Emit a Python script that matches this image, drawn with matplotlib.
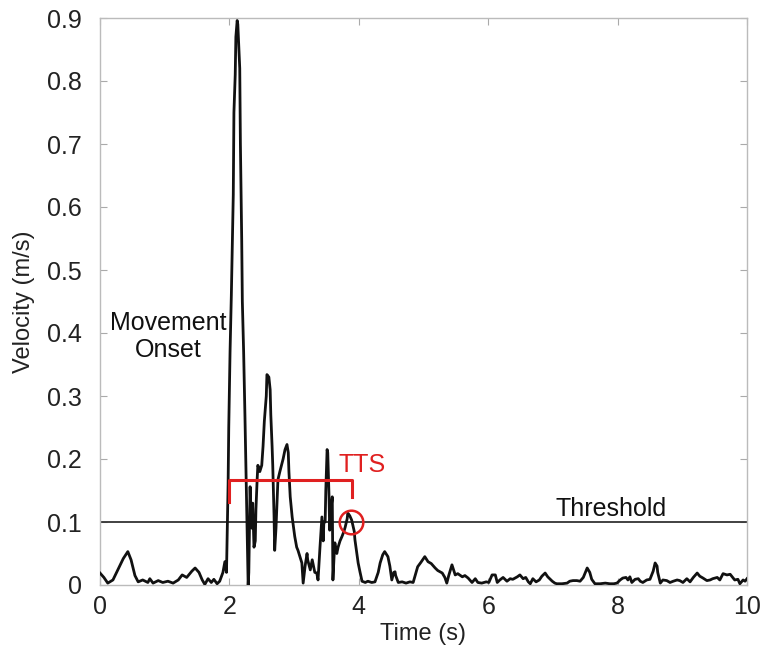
import matplotlib
matplotlib.use("Agg")
import matplotlib.pyplot as plt

plt.rcParams['font.family'] = ['Liberation Sans', 'DejaVu Sans']

time_s = [0.00, 0.06, 0.12, 0.20, 0.28, 0.36, 0.43, 0.48, 0.54, 0.59, 0.66, 0.74, 0.77, 0.82, 0.90, 0.97,
          1.05, 1.13, 1.21, 1.27, 1.34, 1.42, 1.47, 1.53, 1.58, 1.62, 1.67, 1.72, 1.76, 1.81, 1.85, 1.90,
          1.93, 1.955, 1.98, 1.99, 2.01, 2.03, 2.06, 2.07, 2.09, 2.10, 2.12, 2.13, 2.16, 2.17, 2.19, 2.20,
          2.22, 2.24, 2.26, 2.28, 2.29, 2.30, 2.32, 2.33, 2.35, 2.36, 2.38, 2.40, 2.41, 2.43, 2.44, 2.47,
          2.50, 2.52, 2.54, 2.57, 2.58, 2.61, 2.63, 2.64, 2.66, 2.67, 2.69, 2.70, 2.72, 2.74, 2.75, 2.78,
          2.83, 2.86, 2.89, 2.91, 2.92, 2.94, 2.97, 3.00, 3.01, 3.04, 3.06, 3.09, 3.12, 3.14, 3.17, 3.20,
          3.21, 3.25, 3.28, 3.29, 3.32, 3.35, 3.37, 3.40, 3.43, 3.45, 3.46, 3.48, 3.49, 3.51, 3.52, 3.54,
          3.55, 3.57, 3.59, 3.60, 3.62, 3.63, 3.66, 3.68, 3.71, 3.74, 3.77, 3.79, 3.82, 3.83, 3.86, 3.89,
          3.93, 3.94, 3.97, 3.99, 4.02, 4.05, 4.10, 4.14, 4.20, 4.25, 4.30, 4.33, 4.37, 4.40, 4.45, 4.48,
          4.51, 4.54, 4.56, 4.57, 4.61, 4.67, 4.73, 4.79, 4.84, 4.88, 4.91, 4.96, 5.02, 5.07, 5.12, 5.18,
          5.22, 5.29, 5.33, 5.36, 5.39, 5.44, 5.49, 5.53, 5.60, 5.64, 5.69, 5.75, 5.80, 5.84, 5.90, 5.97,
          6.01, 6.06, 6.11, 6.14, 6.18, 6.23, 6.29, 6.34, 6.38, 6.45, 6.49, 6.54, 6.58, 6.62, 6.65, 6.69,
          6.74, 6.79, 6.83, 6.88, 6.92, 6.99, 7.03, 7.06, 7.14, 7.22, 7.26, 7.31, 7.37, 7.42, 7.47, 7.53,
          7.57, 7.60, 7.65, 7.73, 7.81, 7.88, 7.94, 7.99, 8.04, 8.08, 8.13, 8.16, 8.19, 8.22, 8.27, 8.32,
          8.35, 8.39, 8.45, 8.50, 8.55, 8.58, 8.61, 8.62, 8.66, 8.70, 8.76, 8.81, 8.86, 8.92, 8.96, 9.01,
          9.07, 9.12, 9.17, 9.23, 9.27, 9.32, 9.38, 9.43, 9.47, 9.54, 9.58, 9.63, 9.69, 9.74, 9.78, 9.81,
          9.86, 9.89, 9.94, 9.97, 10.00]

velocity = [0.019, 0.012, 0.003, 0.008, 0.025, 0.042, 0.053, 0.040, 0.015, 0.005, 0.008, 0.004, 0.010, 0.003, 0.007, 0.004,
            0.006, 0.003, 0.008, 0.016, 0.012, 0.022, 0.027, 0.020, 0.008, 0.001, 0.010, 0.004, 0.009, 0.002, 0.006, 0.020,
            0.037, 0.020, 0.160, 0.250, 0.370, 0.460, 0.620, 0.750, 0.810, 0.870, 0.896, 0.890, 0.820, 0.700, 0.550, 0.450,
            0.370, 0.270, 0.160, 0.050, 0.000, 0.020, 0.156, 0.120, 0.090, 0.130, 0.060, 0.070, 0.120, 0.170, 0.190, 0.180,
            0.190, 0.220, 0.260, 0.300, 0.334, 0.330, 0.310, 0.270, 0.220, 0.190, 0.110, 0.055, 0.090, 0.140, 0.167, 0.180,
            0.200, 0.215, 0.223, 0.210, 0.180, 0.140, 0.108, 0.085, 0.077, 0.060, 0.055, 0.045, 0.035, 0.003, 0.030, 0.050,
            0.040, 0.024, 0.040, 0.035, 0.020, 0.019, 0.008, 0.060, 0.108, 0.070, 0.100, 0.100, 0.150, 0.215, 0.210, 0.140,
            0.087, 0.120, 0.140, 0.008, 0.050, 0.067, 0.050, 0.060, 0.070, 0.077, 0.085, 0.092, 0.105, 0.114, 0.110, 0.103,
            0.085, 0.072, 0.050, 0.035, 0.020, 0.006, 0.004, 0.006, 0.004, 0.005, 0.020, 0.035, 0.048, 0.053, 0.045, 0.030,
            0.008, 0.020, 0.021, 0.015, 0.004, 0.005, 0.003, 0.005, 0.004, 0.018, 0.029, 0.036, 0.045, 0.037, 0.034, 0.027,
            0.023, 0.019, 0.012, 0.003, 0.015, 0.032, 0.016, 0.018, 0.013, 0.015, 0.011, 0.004, 0.010, 0.004, 0.003, 0.005,
            0.004, 0.016, 0.016, 0.004, 0.008, 0.012, 0.006, 0.010, 0.009, 0.013, 0.016, 0.010, 0.012, 0.005, 0.002, 0.010,
            0.005, 0.008, 0.014, 0.019, 0.013, 0.006, 0.003, 0.002, 0.002, 0.003, 0.006, 0.007, 0.007, 0.006, 0.012, 0.027,
            0.020, 0.009, 0.002, 0.002, 0.003, 0.002, 0.002, 0.003, 0.008, 0.011, 0.012, 0.008, 0.013, 0.004, 0.009, 0.010,
            0.006, 0.004, 0.008, 0.009, 0.022, 0.035, 0.030, 0.020, 0.003, 0.008, 0.007, 0.004, 0.006, 0.008, 0.007, 0.004,
            0.010, 0.005, 0.012, 0.019, 0.014, 0.011, 0.007, 0.008, 0.010, 0.012, 0.008, 0.018, 0.016, 0.017, 0.012, 0.008,
            0.009, 0.002, 0.008, 0.006, 0.010]

threshold = 0.1
tts_start, tts_end = 1.99, 3.89
tts_bracket_y = 0.166
tts_leg_bottom = [0.132, 0.140]
tts_point = (3.88, 0.1)

x_ticks = [0, 2, 4, 6, 8, 10]
y_ticks = [0, 0.1, 0.2, 0.3, 0.4, 0.5, 0.6, 0.7, 0.8, 0.9]
y_ticklabels = ['0', '0.1', '0.2', '0.3', '0.4', '0.5', '0.6', '0.7', '0.8', '0.9']

fig = plt.figure(figsize=(7.61, 6.49), dpi=100)
ax = fig.add_axes([100 / 761, 64 / 649, 647 / 761, 567 / 649])

ax.plot(time_s, velocity, color='#111111', linewidth=2.0, zorder=3)
ax.axhline(threshold, color='#333333', linewidth=1.3, zorder=2)

red = '#e02020'
ax.plot([tts_start, tts_start, tts_end, tts_end],
        [tts_leg_bottom[0], tts_bracket_y, tts_bracket_y, tts_leg_bottom[1]],
        color=red, linewidth=2.2, zorder=4)
ax.plot([tts_point[0]], [tts_point[1]], marker='o', markersize=17, markerfacecolor='none',
        markeredgecolor=red, markeredgewidth=1.8, zorder=5)

ax.text(4.05, 0.19, 'TTS', color=red, fontsize=18, ha='center', va='center')
ax.text(7.9, 0.121, 'Threshold', color='#111111', fontsize=18, ha='center', va='center')
ax.text(1.05, 0.395, 'Movement\nOnset', color='#111111', fontsize=18, ha='center', va='center',
        linespacing=1.15)

ax.set_xlim(0, 10)
ax.set_ylim(0, 0.9)
ax.set_xticks(x_ticks)
ax.set_yticks(y_ticks)
ax.set_yticklabels(y_ticklabels)
ax.tick_params(direction='in', length=5, color='#aaaaaa', labelsize=18, labelcolor='#222222',
               top=True, right=True)
ax.tick_params(axis='y', pad=13)
ax.tick_params(axis='x', pad=7)
for s in ax.spines.values():
    s.set_color('#bbbbbb')
    s.set_linewidth(1.0)

ax.set_xlabel('Time (s)', fontsize=17, color='#222222', labelpad=3)
ax.set_ylabel('Velocity (m/s)', fontsize=17, color='#222222', labelpad=9)

fig.savefig('out.png', dpi=100)
